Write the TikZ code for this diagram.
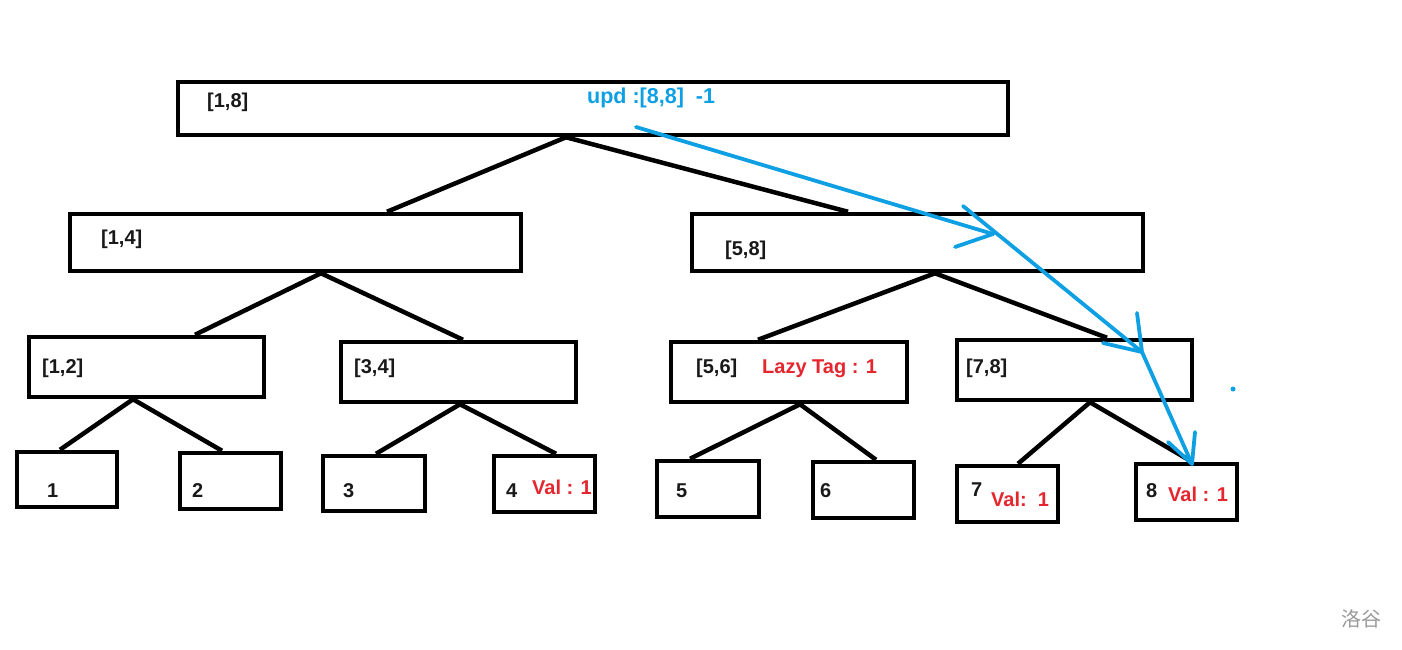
\documentclass[tikz,border=0pt]{standalone}
\usepackage{fontspec}
\setmainfont{Liberation Sans}
\newfontfamily\cjk{Noto Sans CJK SC}
\definecolor{pblue}{HTML}{0FA0E4}
\definecolor{pred}{HTML}{E5262E}
\definecolor{wm}{HTML}{9A9A9A}
\begin{document}
\begin{tikzpicture}[x=1pt,y=-1pt,
  box/.style={draw=black,line width=4.5pt,inner sep=0pt,fill=white},
  conn/.style={draw=black,line width=4.5pt},
  lbl/.style={anchor=west,inner sep=0pt,font=\fontsize{20}{20}\selectfont\bfseries,text=black!90},
  rlbl/.style={lbl,text=pred},
  blbl/.style={lbl,text=pblue,font=\fontsize{21.5}{21.5}\selectfont\bfseries},
  bl/.style={draw=pblue,line width=3.8pt,line cap=round}]
\useasboundingbox[fill=white] (0,0) rectangle (1402,649);
\newcommand\mkbox[6]{\node[box,minimum width=#4,minimum height=#5] (#1) at (#2,#3) {};}
\mkbox{root}{593}{108.5}{830}{53}{}
\mkbox{n14}{295.5}{242.5}{451}{57}{}
\mkbox{n58}{917.5}{242.5}{451}{57}{}
\mkbox{n12}{146.5}{367}{235}{60}{}
\mkbox{n34}{458.5}{372}{235}{60}{}
\mkbox{n56}{789}{372}{236}{60}{}
\mkbox{n78}{1074.5}{370}{235}{60}{}
\mkbox{l1}{67}{479.5}{100}{55}{}
\mkbox{l2}{230.5}{481}{101}{56}{}
\mkbox{l3}{374}{483.5}{102}{55}{}
\mkbox{l4}{544.5}{484}{101}{56}{}
\mkbox{l5}{708}{489}{102}{56}{}
\mkbox{l6}{863.5}{490}{101}{56}{}
\mkbox{l7}{1007.5}{494}{101}{56}{}
\mkbox{l8}{1186.5}{492}{101}{56}{}
\newcommand\tedge[4]{\draw[conn] ([xshift=#2]#1.south) -- ([xshift=#4]#3.north);}
\tedge{root}{-27}{n14}{91.5}
\tedge{root}{-27}{n58}{-69.5}
\tedge{n14}{25.5}{n12}{48.5}
\tedge{n14}{25.5}{n34}{4.5}
\tedge{n58}{17.5}{n56}{-31}
\tedge{n58}{17.5}{n78}{32.5}
\tedge{n12}{-13.5}{l1}{-7}
\tedge{n12}{-13.5}{l2}{-8.5}
\tedge{n34}{1.5}{l3}{2}
\tedge{n34}{1.5}{l4}{11.5}
\tedge{n56}{11}{l5}{-18}
\tedge{n56}{11}{l6}{12.5}
\tedge{n78}{15.5}{l7}{10.5}
\tedge{n78}{15.5}{l8}{5.5}
% labels
\node[lbl] (t18) at (207,102) {[1,8]};
\node[blbl] (tupd) at (587,98) {upd :[8,8]\ \ -1};
\node[lbl] (t14) at (101,239) {[1,4]};
\node[lbl] (t58) at (725,250) {[5,8]};
\node[lbl] (t12) at (42,368) {[1,2]};
\node[lbl] (t34) at (354,368) {[3,4]};
\node[lbl] (t56) at (696,368) {[5,6]};
\node[rlbl] (tlazy) at (762,369) {Lazy Tag : 1};
\node[lbl] (t78) at (966,368) {[7,8]};
\node[lbl] (t1) at (47,491) {1};
\node[lbl] (t2) at (192,491) {2};
\node[lbl] (t3) at (343,491) {3};
\node[lbl] (t4) at (506,491) {4};
\node[rlbl] (v4) at (532,487) {Val : 1};
\node[lbl] (t5) at (676,491) {5};
\node[lbl] (t6) at (820,491) {6};
\node[lbl] (t7) at (971,490) {7};
\node[rlbl] (v7) at (991,499) {Val:\ \ 1};
\node[lbl] (t8) at (1146,491) {8};
\node[rlbl] (v8) at (1168,494) {Val : 1};
\node[anchor=west,inner sep=0pt,text=wm,font=\cjk\fontsize{20}{20}\selectfont] (wmk) at (1341,619) {洛谷};
% blue hand-drawn arrows
\coordinate (b0) at (636,127);
\coordinate (b1) at (993,234);
\coordinate (h1) at (955,247);
\coordinate (b1s) at (963,206);
\coordinate (b2) at (1142,352);
\coordinate (h2a) at (1137,313);
\coordinate (h2b) at (1103,343);
\coordinate (b3) at (1192,464);
\coordinate (h3a) at (1195,432);
\coordinate (h3b) at (1168,442);
\draw[bl] (b0) -- (b1);
\draw[bl] (h1) -- (b1);
\draw[bl] (b1s) -- (b2);
\draw[bl] (h2a) -- (b2);
\draw[bl] (h2b) -- (b2);
\draw[bl] (b2) -- (b3);
\draw[bl] (h3a) -- (b3);
\draw[bl] (h3b) -- (b3);
\fill[pblue] (1233,389) circle (2.5);
\end{tikzpicture}
\end{document}
